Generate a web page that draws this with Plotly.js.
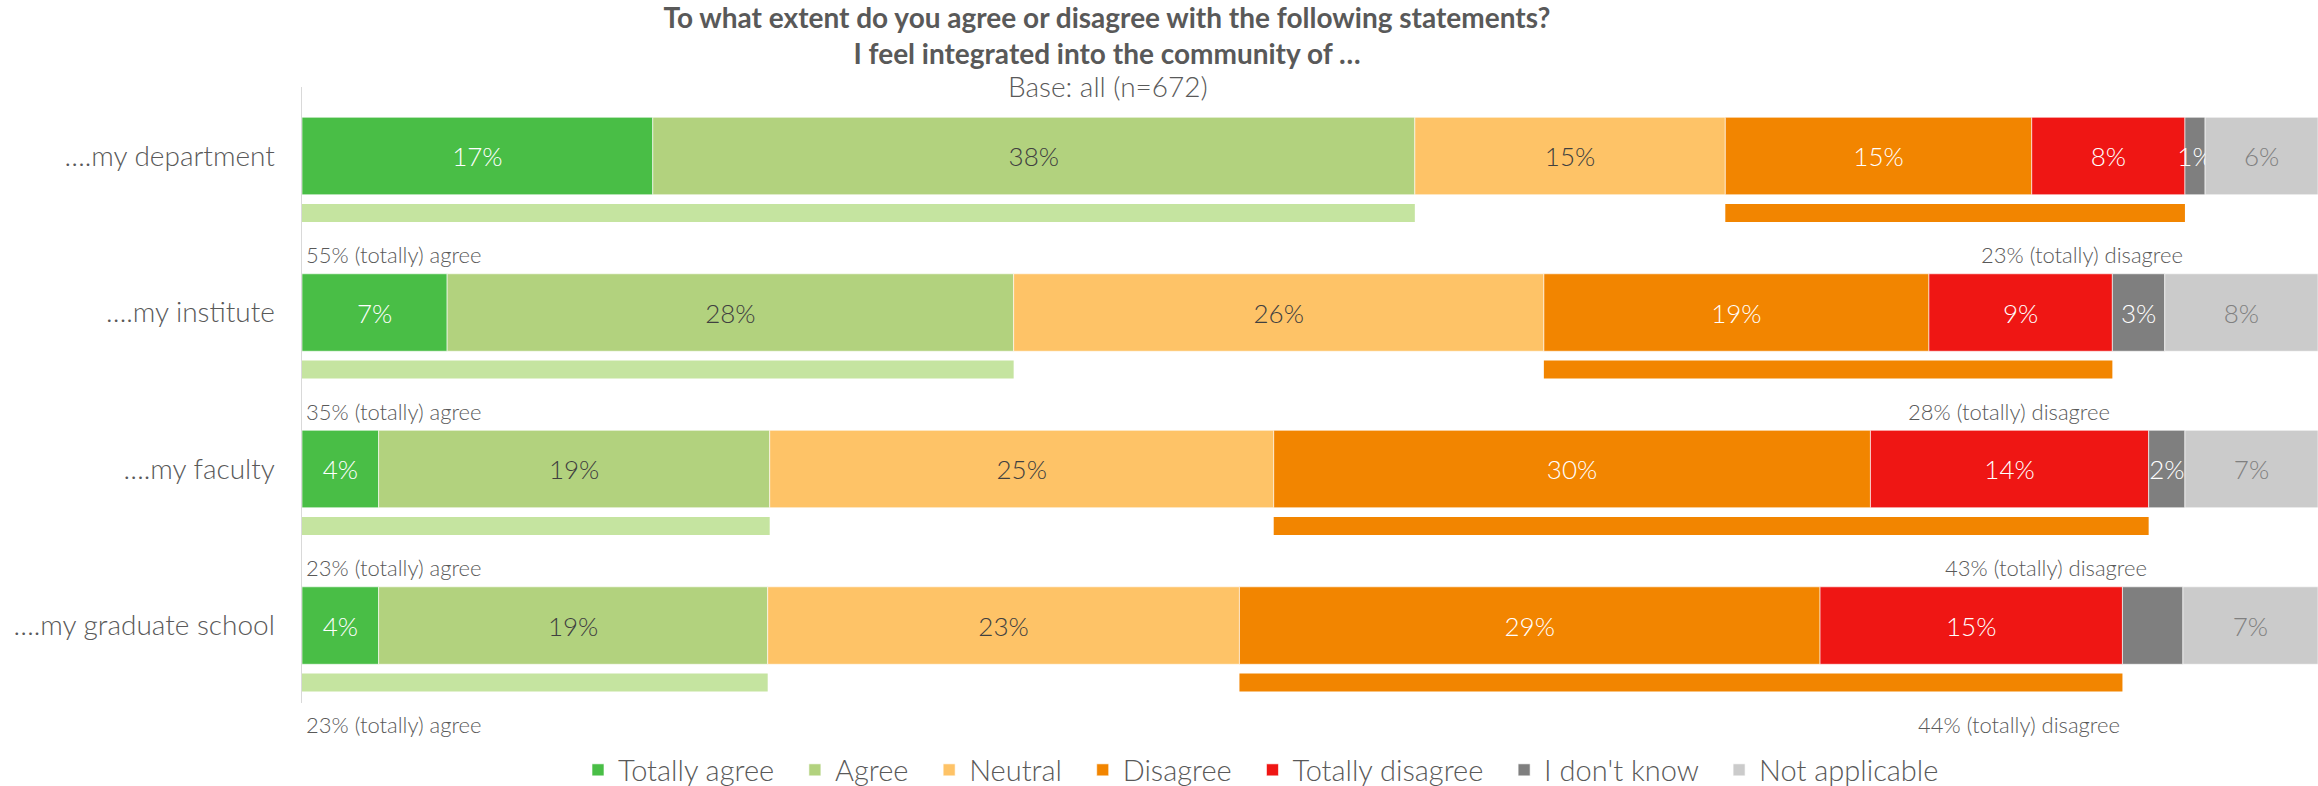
<!DOCTYPE html>
<html><head><meta charset="utf-8">
<script src="https://cdn.plot.ly/plotly-3.0.1.min.js"></script>
<style>html,body{margin:0;padding:0;background:#fff}#chart{width:2318px;height:786px}</style>
</head><body><div id="chart"></div>
<script>
// ---- data ----
const categories = ['\u2026.my department', '\u2026.my institute', '\u2026.my faculty', '\u2026.my graduate school'];
const seriesNames = ['Totally agree', 'Agree', 'Neutral', 'Disagree', 'Totally disagree', "I don't know", 'Not applicable'];
const totallyAgree    = [17.4, 7.2, 3.8, 3.8];
const agree           = [37.8, 28.1, 19.4, 19.3];
const neutral         = [15.4, 26.3, 25.0, 23.4];
const disagree        = [15.2, 19.1, 29.6, 28.8];
const totallyDisagree = [7.6, 9.1, 13.8, 15.0];
const dontKnow        = [1.0, 2.6, 1.8, 3.0];
const notApplicable   = [5.6, 7.6, 6.6, 6.7];
const dontKnowLabelShown = [true, true, true, false];
const titleLines = ['To what extent do you agree or disagree with the following statements?', 'I feel integrated into the community of \u2026'];
const baseText = 'Base: all (n=672)';

// ---- styles ----
const FONT = 'Lato, Roboto, "Open Sans", sans-serif';
const colors = ['#49BE46', '#B2D27E', '#FEC367', '#F28500', '#EF1614', '#7F7F7F', '#CBCBCB'];
const textColors = ['#FFFFFF', '#404040', '#404040', '#FFFFFF', '#FFFFFF', '#FFFFFF', '#808080'];
const Y_RANGE = [3.495, -0.441];
const LEGEND_PAD = '\u00a0\u00a0';

const series = [totallyAgree, agree, neutral, disagree, totallyDisagree, dontKnow, notApplicable];
const traces = [];
let cum = categories.map(() => 0);
series.forEach((vals, k) => {
  const base = cum.slice();
  const text = vals.map((v, i) => (k === 5 && !dontKnowLabelShown[i]) ? '' : Math.round(v) + '%');
  traces.push({
    type: 'bar', orientation: 'h', name: seriesNames[k] + (k < series.length - 1 ? LEGEND_PAD : ''),
    y: categories, x: vals, base: base, width: 0.495,
    marker: {color: colors[k], line: {color: 'rgba(255,255,255,0.6)', width: 1}},
    text: text, textposition: 'inside', insidetextanchor: 'middle', textangle: 0,
    constraintext: 'none', cliponaxis: false,
    textfont: {color: textColors[k], size: 26, family: FONT, weight: 300},
    hoverinfo: 'skip'
  });
  cum = cum.map((c, i) => c + vals[i]);
});

const agreeTotal = categories.map((_, i) => totallyAgree[i] + agree[i]);
const disagreeTotal = categories.map((_, i) => disagree[i] + totallyDisagree[i]);
const disagreeStart = categories.map((_, i) => totallyAgree[i] + agree[i] + neutral[i]);

traces.push({type: 'bar', orientation: 'h', y: categories, x: agreeTotal, base: categories.map(() => 0),
  offset: 0.307, width: 0.115, marker: {color: '#C5E4A0'}, showlegend: false, hoverinfo: 'skip'});
traces.push({type: 'bar', orientation: 'h', y: categories, x: disagreeTotal, base: disagreeStart,
  offset: 0.307, width: 0.115, marker: {color: '#F28500'}, showlegend: false, hoverinfo: 'skip'});

// label row position (category index + offset) converted to paper fraction so labels below the last row still show
const yPaper = v => (Y_RANGE[0] - v) / (Y_RANGE[0] - Y_RANGE[1]);
const annotations = [];
categories.forEach((c, i) => {
  annotations.push({xref: 'x', yref: 'paper', x: 0, y: yPaper(i + 0.63), xanchor: 'left', yanchor: 'middle', xshift: 2,
    text: Math.round(agreeTotal[i]) + '% (totally) agree', showarrow: false,
    font: {size: 22, color: '#595959', family: FONT, weight: 300}});
  annotations.push({xref: 'x', yref: 'paper', x: disagreeStart[i] + disagreeTotal[i], y: yPaper(i + 0.63), xanchor: 'right', yanchor: 'middle',
    text: Math.round(disagreeTotal[i]) + '% (totally) disagree', showarrow: false,
    font: {size: 22, color: '#595959', family: FONT, weight: 300}});
});
annotations.push({xref: 'paper', yref: 'paper', x: (1108 - 302) / 2016, y: (703 - 86) / 616, xanchor: 'center', yanchor: 'middle',
  text: baseText, showarrow: false, font: {size: 28, color: '#595959', family: FONT, weight: 300}});

const layout = {
  width: 2318, height: 786,
  margin: {l: 302, r: 0, t: 87, b: 83, pad: 0},
  barmode: 'overlay',
  paper_bgcolor: '#FFFFFF', plot_bgcolor: '#FFFFFF',
  font: {family: FONT, color: '#595959', weight: 300},
  title: {text: '<b>' + titleLines[0] + '</b><br><b>' + titleLines[1] + '</b>',
    x: 1107 / 2318, xanchor: 'center', xref: 'container', y: 1 - 28 / 786, yanchor: 'top', yref: 'container',
    font: {size: 28, color: '#595959', family: FONT}},
  xaxis: {range: [0, 100], visible: false, fixedrange: true},
  yaxis: {type: 'category', categoryorder: 'array', categoryarray: categories,
    range: Y_RANGE, showline: true, linecolor: '#D9D9D9', linewidth: 1.5,
    ticks: '', ticklabelstandoff: 20, showgrid: false, zeroline: false,
    tickfont: {size: 28, color: '#595959', family: FONT, weight: 300}},
  legend: {orientation: 'h', xref: 'container', x: 1261 / 2318, xanchor: 'center',
    yref: 'container', y: 16 / 786, yanchor: 'middle', traceorder: 'normal',
    font: {size: 29, color: '#595959', family: FONT, weight: 300}},
  annotations: annotations,
  showlegend: true
};

Plotly.newPlot('chart', traces, layout, {displayModeBar: false, staticPlot: true});
</script>
</body></html>
